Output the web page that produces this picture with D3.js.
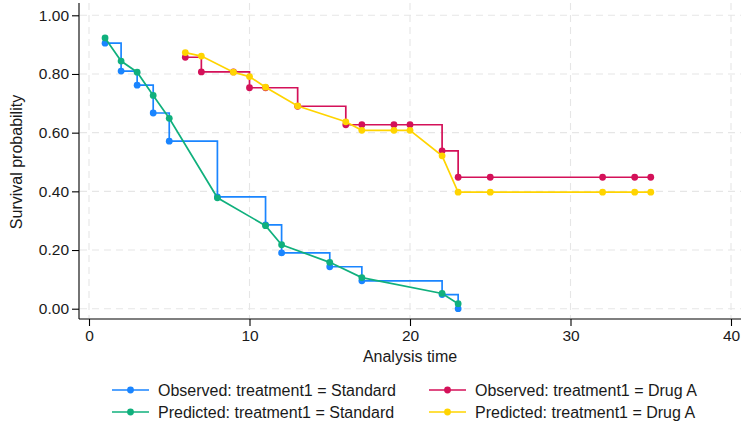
<!DOCTYPE html>
<html>
<head>
<meta charset="utf-8">
<script src="https://cdn.jsdelivr.net/npm/d3@7"></script>
<style>
  html, body { margin: 0; padding: 0; background: #fff; }
  svg { display: block; font-family: "Liberation Sans", Arial, sans-serif; }
</style>
</head>
<body>
<svg id="chart" width="744" height="422"></svg>
<script>
// ---- Data ----
const stdTime = [1, 2, 3, 4, 5, 8, 11, 12, 15, 17, 22, 23];
const stdObserved = [0.905, 0.810, 0.762, 0.667, 0.571, 0.381, 0.286, 0.190, 0.143, 0.095, 0.048, 0.000];
const stdPredicted = [0.923, 0.844, 0.806, 0.727, 0.649, 0.378, 0.283, 0.218, 0.158, 0.106, 0.052, 0.017];

const drugTime = [6, 7, 9, 10, 11, 13, 16, 17, 19, 20, 22, 23, 25, 32, 34, 35];
const drugObserved = [0.857, 0.807, 0.807, 0.753, 0.753, 0.690, 0.627, 0.627, 0.627, 0.627, 0.538, 0.448, 0.448, 0.448, 0.448, 0.448];
const drugPredicted = [0.873, 0.861, 0.806, 0.791, 0.755, 0.691, 0.637, 0.608, 0.608, 0.608, 0.521, 0.397, 0.397, 0.397, 0.397, 0.397];

const xTicks = [0, 10, 20, 30, 40];
const yTicks = [0, 0.2, 0.4, 0.6, 0.8, 1.0];

const seriesLabels = [
  "Observed: treatment1 = Standard",
  "Observed: treatment1 = Drug A",
  "Predicted: treatment1 = Standard",
  "Predicted: treatment1 = Drug A"
];
const seriesColors = ["#1A85FF", "#D41159", "#10B07D", "#FFD400"];

// ---- Layout ----
const svg = d3.select("#chart");
const x = d3.scaleLinear().domain([0, 40]).range([89, 731]);
const y = d3.scaleLinear().domain([0, 1]).range([308.7, 15.3]);
const axisLeftX = 79, axisBottomY = 319, axisTopY = 3, axisRightX = 741;

// grid
const grid = svg.append("g").attr("stroke", "#e6e6e6").attr("stroke-width", 1.1).attr("stroke-dasharray", "7,5");
grid.selectAll("line.h").data(yTicks).join("line")
  .attr("x1", axisLeftX + 1).attr("x2", axisRightX)
  .attr("y1", d => y(d)).attr("y2", d => y(d));
grid.selectAll("line.v").data(xTicks).join("line")
  .attr("y1", axisTopY).attr("y2", axisBottomY - 1)
  .attr("x1", d => x(d)).attr("x2", d => x(d));

// axes
const gx = svg.append("g").attr("transform", `translate(0,${axisBottomY})`)
  .call(d3.axisBottom(x).tickValues(xTicks).tickSize(7).tickPadding(4).tickFormat(d3.format("d")));
gx.select(".domain").attr("d", `M${axisLeftX},0H${axisRightX}`);
const gy = svg.append("g").attr("transform", `translate(${axisLeftX},0)`)
  .call(d3.axisLeft(y).tickValues(yTicks).tickSize(7).tickPadding(3).tickFormat(d3.format(".2f")));
gy.select(".domain").attr("d", `M0,${axisTopY}V${axisBottomY}`);
svg.selectAll(".tick text").attr("font-size", 15.5).attr("fill", "#1a1a1a")
  .attr("font-family", "Liberation Sans, Arial, sans-serif");
svg.selectAll(".domain, .tick line").attr("stroke", "#000").attr("stroke-width", 1.1);

// axis titles
svg.append("text").attr("x", 410).attr("y", 362).attr("text-anchor", "middle")
  .attr("font-size", 16).attr("fill", "#1a1a1a").text("Analysis time");
svg.append("text").attr("transform", `translate(22,162) rotate(-90)`).attr("text-anchor", "middle")
  .attr("font-size", 16).attr("fill", "#1a1a1a").text("Survival probability");

// series
const series = [
  { t: stdTime, s: stdObserved, color: seriesColors[0], step: true },
  { t: drugTime, s: drugObserved, color: seriesColors[1], step: true },
  { t: stdTime, s: stdPredicted, color: seriesColors[2], step: false },
  { t: drugTime, s: drugPredicted, color: seriesColors[3], step: false }
];
const plot = svg.append("g");
series.forEach(ser => {
  const pts = ser.t.map((t, i) => [t, ser.s[i]]);
  const line = d3.line().x(d => x(d[0])).y(d => y(d[1]))
    .curve(ser.step ? d3.curveStepAfter : d3.curveLinear);
  plot.append("path").datum(pts).attr("d", line)
    .attr("fill", "none").attr("stroke", ser.color).attr("stroke-width", 1.7)
    .attr("stroke-linejoin", "miter");
  plot.append("g").selectAll("circle").data(pts).join("circle")
    .attr("cx", d => x(d[0])).attr("cy", d => y(d[1])).attr("r", 3.4)
    .attr("fill", ser.color);
});

// legend
const legendPos = [
  { lx: 112, ly: 390 }, { lx: 429, ly: 390 },
  { lx: 112, ly: 412 }, { lx: 429, ly: 412 }
];
const leg = svg.append("g");
seriesLabels.forEach((lab, i) => {
  const p = legendPos[i];
  leg.append("line").attr("x1", p.lx).attr("x2", p.lx + 37).attr("y1", p.ly).attr("y2", p.ly)
    .attr("stroke", seriesColors[i]).attr("stroke-width", 1.7);
  leg.append("circle").attr("cx", p.lx + 18.5).attr("cy", p.ly).attr("r", 3.4).attr("fill", seriesColors[i]);
  leg.append("text").attr("x", p.lx + 46).attr("y", p.ly + 5.6)
    .attr("font-size", 16).attr("fill", "#1a1a1a").text(lab);
});
</script>
</body>
</html>
